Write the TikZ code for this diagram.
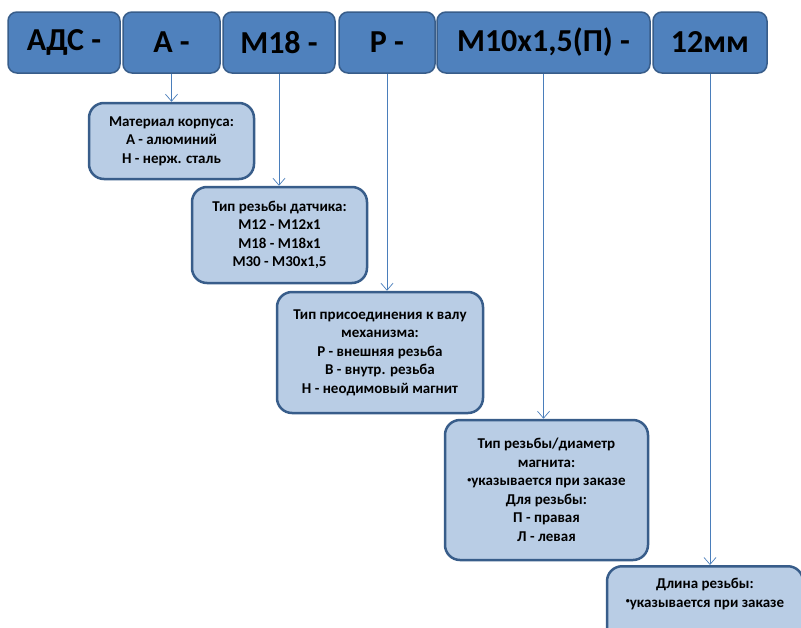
\documentclass[tikz,border=0pt]{standalone}
\usepackage{fontspec}
\setmainfont{Carlito}
\usetikzlibrary{arrows.meta}

\definecolor{codeblue}{HTML}{4F81BD}
\definecolor{infoblue}{HTML}{B9CDE5}
\definecolor{edgeblue}{HTML}{385D8A}
\definecolor{arrowblue}{HTML}{4A7EBB}

\newcommand{\smalldot}{{\fontsize{8}{8}\selectfont\raisebox{3.5pt}{•}}}

\begin{document}
\begin{tikzpicture}[x=1pt, y=-1pt,
    codebox/.style={rectangle, rounded corners=9pt, draw=edgeblue, line width=1.5pt, fill=codeblue,
      minimum height=61pt, inner sep=0pt, font=\fontsize{32}{38}\selectfont\bfseries},
    infobox/.style={rectangle, rounded corners=15pt, draw=edgeblue, line width=2.5pt, fill=infoblue,
      align=center, inner sep=0pt, font=\fontsize{15}{18.5}\selectfont\bfseries},
    link/.style={draw=arrowblue, line width=0.7pt, -{Straight Barb[length=7pt, width=12pt]}}]
              \useasboundingbox (0,0) rectangle (801,627);
              \clip (0,0) rectangle (801,627);

              % code parts
              \node[codebox, minimum width=112pt] (ads) at (64,42.5) {АДС -};
              \node[codebox, minimum width=97pt] (a) at (171.5,42.5) {А -};
              \node[codebox, minimum width=112pt] (m) at (279,42.5) {М18 -};
              \node[codebox, minimum width=96pt] (p) at (387,42.5) {Р -};
              \node[codebox, minimum width=213pt] (thr) at (543.5,42.5) {М10х1,5(П) -};
              \node[codebox, minimum width=114pt] (mm) at (710,42.5) {12мм};

              % explanations
              \node[infobox, minimum width=165pt, minimum height=76pt] (mat) at (171.5,141)
                {Материал корпуса:\\А - алюминий\\Н - нерж. сталь};
              \node[infobox, minimum width=175pt, minimum height=96pt] (typ) at (279.5,235)
                {Тип резьбы датчика:\\М12 - М12х1\\М18 - М18х1\\М30 - М30х1,5};
              \node[infobox, minimum width=206pt, minimum height=121pt] (conn) at (380,352.5)
                {Тип присоединения к валу\\механизма:\\Р - внешняя резьба\\В - внутр. резьба\\Н - неодимовый магнит};
              \node[infobox, minimum width=203pt, minimum height=140pt] (dia) at (546.5,490)
                {Тип резьбы/диаметр\\магнита:\\\smalldot указывается при заказе\\Для резьбы:\\П - правая\\Л - левая};
              \node[infobox, minimum width=196pt, inner ysep=12pt, text depth=50pt, anchor=north] (len) at (705,565)
                {Длина резьбы:\\\smalldot указывается при заказе};

              \draw[link] (a.south) -- (a.south |- mat.north);
              \draw[link] (m.south) -- (m.south |- typ.north);
              \draw[link] (p.south) -- (p.south |- conn.north);
              \draw[link] (thr.south) -- (thr.south |- dia.north);
              \draw[link] (mm.south) -- (mm.south |- len.north);
            \end{tikzpicture}
\end{document}
